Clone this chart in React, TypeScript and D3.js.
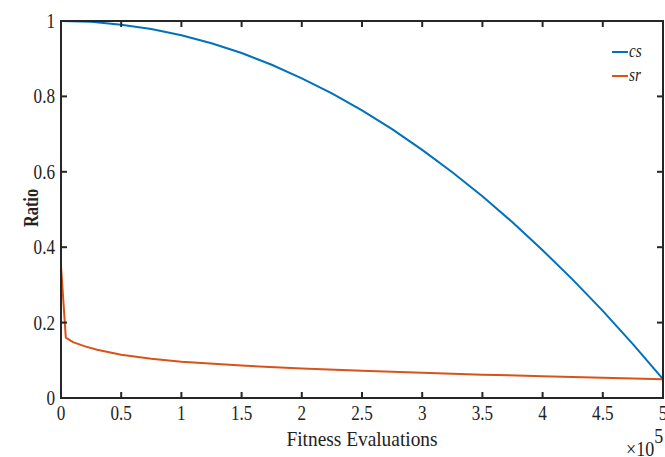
import React from "react";
import * as d3 from "d3";

const csX = [0, 0.25, 0.5, 0.75, 1, 1.25, 1.5, 1.75, 2, 2.25, 2.5, 2.75, 3, 3.25, 3.5, 3.75, 4, 4.25, 4.5, 4.75, 5];
const csY = [1, 0.998, 0.99, 0.979, 0.962, 0.941, 0.915, 0.884, 0.848, 0.808, 0.763, 0.713, 0.658, 0.599, 0.535, 0.466, 0.392, 0.314, 0.231, 0.143, 0.05];
const srX = [0, 0.04, 0.1, 0.2, 0.3, 0.5, 0.75, 1, 1.5, 2, 2.5, 3, 3.5, 4, 4.5, 5];
const srY = [0.35, 0.16, 0.148, 0.137, 0.128, 0.115, 0.104, 0.096, 0.086, 0.078, 0.072, 0.067, 0.062, 0.058, 0.054, 0.05];
const xTicks = [0, 0.5, 1, 1.5, 2, 2.5, 3, 3.5, 4, 4.5, 5];
const yTicks = [0, 0.2, 0.4, 0.6, 0.8, 1];
const seriesNames = ["cs", "sr"];
const colors = ["#0072BD", "#D95319"];

export default function App() {
  const W = 665, H = 457;
  const L = 61, R = 663, T = 21, B = 398;
  const x = d3.scaleLinear().domain([0, 5]).range([L, R]);
  const y = d3.scaleLinear().domain([0, 1]).range([B, T]);
  const line = d3.line<[number, number]>().x(d => x(d[0])).y(d => y(d[1]));
  const series = [csX.map((v, i) => [v, csY[i]] as [number, number]), srX.map((v, i) => [v, srY[i]] as [number, number])];
  const font = "'Liberation Serif', 'Times New Roman', serif";
  const ax = "#262626";
  const tx = "#222";
  return (
    <svg width={W} height={H} style={{ position: "absolute", left: 0, top: 0 }} fontFamily={font}>
      <rect width={W} height={H} fill="#fff" />
      {series.map((s, i) => (
        <path key={i} d={line(s) || ""} fill="none" stroke={colors[i]} strokeWidth={2} />
      ))}
      <path d={`M${L},${T}H${R}V${B}H${L}Z`} fill="none" stroke={ax} strokeWidth={2} />
      {xTicks.map(t => (
        <g key={"x" + t}>
          <line x1={x(t)} x2={x(t)} y1={B} y2={B - 6} stroke={ax} strokeWidth={2} />
          <line x1={x(t)} x2={x(t)} y1={T} y2={T + 6} stroke={ax} strokeWidth={2} />
          <text transform={`translate(${x(t)},420) scale(0.78,1)`} textAnchor="middle" fontSize={22} fill={tx}>{String(t)}</text>
        </g>
      ))}
      {yTicks.map(t => (
        <g key={"y" + t}>
          <line x1={L} x2={L + 6} y1={y(t)} y2={y(t)} stroke={ax} strokeWidth={2} />
          <line x1={R} x2={R - 6} y1={y(t)} y2={y(t)} stroke={ax} strokeWidth={2} />
          <text transform={`translate(55,${y(t) + 7}) scale(0.78,1)`} textAnchor="end" fontSize={22} fill={tx}>{String(t)}</text>
        </g>
      ))}
      <text transform="translate(362,446) scale(0.88,1)" textAnchor="middle" fontSize={22} fill={tx}>Fitness Evaluations</text>
      <text transform="translate(38,208) rotate(-90) scale(0.82,1)" textAnchor="middle" fontSize={20} fontWeight="bold" fill={tx}>Ratio</text>
      <text transform="translate(626,456) scale(0.9,1)" fontSize={20} fill={tx}>×10<tspan dy={-13} fontSize={20}>5</tspan></text>
      {seriesNames.map((n, i) => (
        <g key={n}>
          <line x1={612} x2={628} y1={52 + i * 24} y2={52 + i * 24} stroke={colors[i]} strokeWidth={2} />
          <text transform={`translate(629,${57 + i * 24}) scale(0.85,1)`} fontSize={18} fontStyle="italic" fill={tx}>{n}</text>
        </g>
      ))}
    </svg>
  );
}
